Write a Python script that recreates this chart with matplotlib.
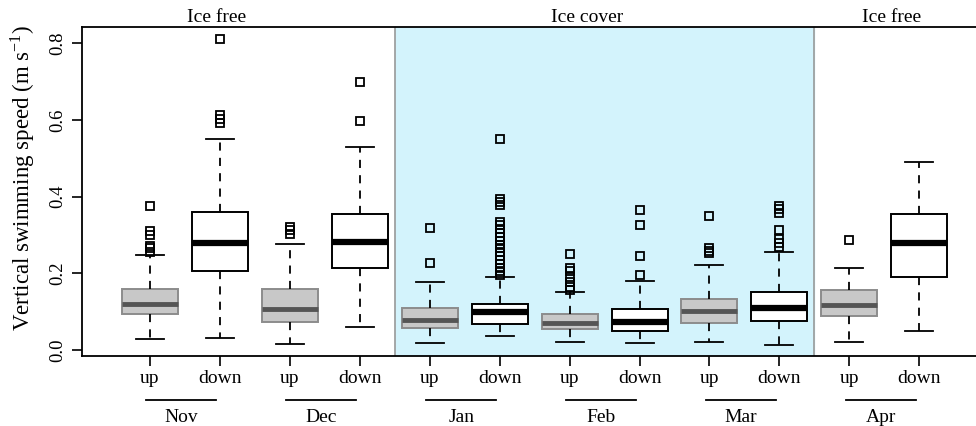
import matplotlib
matplotlib.use("Agg")
from matplotlib import pyplot as plt

plt.rcParams['font.family'] = ['Liberation Serif', 'DejaVu Serif']
plt.rcParams['mathtext.fontset'] = 'stix'

months = ["Nov", "Dec", "Jan", "Feb", "Mar", "Apr"]
directions = ["up", "down"]

# box stats per box, order: Nov up, Nov down, Dec up, ... Apr down
q1 = [0.093, 0.206, 0.074, 0.215, 0.057, 0.068, 0.055, 0.051, 0.070, 0.077, 0.089, 0.190]
med = [0.120, 0.278, 0.107, 0.281, 0.078, 0.099, 0.071, 0.074, 0.101, 0.109, 0.118, 0.280]
q3 = [0.158, 0.359, 0.158, 0.356, 0.109, 0.119, 0.094, 0.108, 0.132, 0.151, 0.156, 0.354]
whislo = [0.028, 0.032, 0.017, 0.061, 0.019, 0.038, 0.020, 0.019, 0.020, 0.013, 0.021, 0.051]
whishi = [0.248, 0.550, 0.277, 0.530, 0.178, 0.190, 0.152, 0.181, 0.222, 0.255, 0.213, 0.491]
fliers = [
    [0.376, 0.310, 0.300, 0.272, 0.265, 0.256],
    [0.810, 0.613, 0.602, 0.593],
    [0.322, 0.313, 0.302],
    [0.699, 0.597],
    [0.317, 0.228],
    [0.550, 0.393, 0.387, 0.378, 0.335, 0.325, 0.315, 0.305, 0.295, 0.285,
     0.275, 0.265, 0.255, 0.245, 0.235, 0.225, 0.215, 0.205, 0.197],
    [0.250, 0.215, 0.206, 0.191, 0.178, 0.165, 0.156],
    [0.365, 0.326, 0.246, 0.197],
    [0.349, 0.265, 0.259, 0.252],
    [0.376, 0.367, 0.358, 0.313, 0.289, 0.278, 0.268],
    [0.287],
    [],
]

sections = ["Ice free", "Ice cover", "Ice free"]
section_x = [1.96, 7.25, 11.6]
ice_start, ice_end = 4.5, 10.5

fig = plt.figure(figsize=(9.76, 4.26), dpi=100)
ax = fig.add_axes([0.084, 0.164, 0.916, 0.7726])

ax.axvspan(ice_start, ice_end, color='#d3f3fc', zorder=0)
ax.axvline(ice_start, color='#999999', lw=1.2, zorder=0.5)
ax.axvline(ice_end, color='#999999', lw=1.2, zorder=0.5)

positions = list(range(1, len(q1) + 1))
stats = []
for i in range(len(q1)):
    stats.append(dict(q1=q1[i], med=med[i], q3=q3[i], whislo=whislo[i],
                      whishi=whishi[i], fliers=fliers[i]))

for i, st in enumerate(stats):
    up = (i % 2 == 0)
    if up:
        boxp = dict(facecolor='#c8c8c8', edgecolor='#8c8c8c', lw=1.4)
        medp = dict(color='#555555', lw=3.5)
    else:
        boxp = dict(facecolor='white', edgecolor='black', lw=1.4)
        medp = dict(color='black', lw=4.5)
    ax.bxp([st], positions=[positions[i]], widths=0.8, patch_artist=True,
           boxprops=boxp, medianprops=medp,
           whiskerprops=dict(color='black', lw=1.3, linestyle=(0, (4.5, 4))),
           capprops=dict(color='black', lw=1.3), capwidths=0.4,
           flierprops=dict(marker='s', markersize=6, markerfacecolor='none',
                           markeredgecolor='black', markeredgewidth=1.3),
           manage_ticks=False)

ax.set_xlim(0.03, 12.81)
ax.set_ylim(-0.0157, 0.842)
ax.set_xticks(positions)
ax.set_xticklabels(directions * len(months), fontsize=14)
ax.set_yticks([0.0, 0.2, 0.4, 0.6, 0.8])
ax.set_yticklabels(["0.0", "0.2", "0.4", "0.6", "0.8"], rotation=90, va='center', fontsize=13.5)
ax.tick_params(axis='both', length=7, width=1.2, color='black')
ax.tick_params(axis='x', pad=3)
ax.tick_params(axis='y', pad=4)
ax.set_ylabel(r'Vertical swimming speed (m s$^{\mathregular{-1}}$)', fontsize=16.5)
ax.yaxis.set_label_coords(-0.05, 0.542)

for s in ['left', 'bottom', 'top']:
    ax.spines[s].set_linewidth(1.3)
ax.spines['right'].set_visible(False)

# month group lines and labels under each up/down pair
trans = ax.get_xaxis_transform()
for k, m in enumerate(months):
    a = positions[2 * k] - 0.05
    b = positions[2 * k + 1] - 0.05
    ax.plot([a, b], [-0.134, -0.134], color='black', lw=1.3, transform=trans, clip_on=False)
    ax.text((a + b) / 2, -0.185, m, transform=trans, ha='center', va='center', fontsize=14)

for name, x in zip(sections, section_x):
    ax.text(x, 1.003, name, transform=trans, ha='center', va='bottom', fontsize=14)

plt.savefig('out.png', dpi=100)
